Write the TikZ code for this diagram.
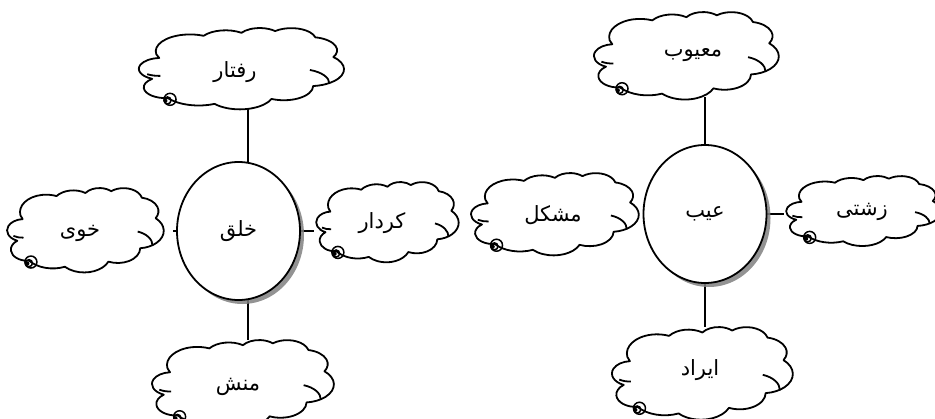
\documentclass[tikz,border=0pt]{standalone}
\usepackage{fontspec}
\newfontfamily\arabicfont[Script=Arabic]{DejaVu Sans}
\TeXXeTstate=1
\usetikzlibrary{shapes.geometric,shadows,backgrounds,calc}
\tikzset{
  conn/.style={line width=1.6pt},
  cloudline/.style={line width=1.8pt, line join=round},
  fatext/.style={font=\arabicfont\fontsize{21}{25}\selectfont, inner sep=0pt},
  hub/.style={ellipse, draw, line width=1.8pt, fill=white, inner sep=0pt,
    minimum width=123pt, minimum height=138pt, fatext,
    drop shadow={shadow xshift=4pt, shadow yshift=-4pt, fill=black!50, opacity=0.85}},
  cloudbox/.style={rectangle, draw=none, inner sep=0pt},
  bubble/.style={line width=1.5pt},
}
\newcommand\fa[1]{\beginR #1\endR}
% name, left, top, width, height, text, text x, text y
\newcommand\wcloud[8]{%
  \pgfmathsetmacro\cwx{#4/43.2}%
  \pgfmathsetmacro\cwy{#5/43.2}%
  \begin{scope}[shift={(#2,#3)}, x=\cwx pt, y=-\cwy pt]
    \draw[cloudline, fill=white] (3.9,14.37)
      arc[start angle=-190.4875, delta angle=123.7805, x radius=6.753, y radius=9.19]
      arc[start angle=-144.1024, delta angle=89.9452, x radius=5.333, y radius=7.267]
      arc[start angle=-145.8079, delta angle=99.7230, x radius=4.365, y radius=5.945]
      arc[start angle=-130.9861, delta angle=117.2417, x radius=4.857, y radius=6.595]
      arc[start angle=-78.7089, delta angle=109.0269, x radius=5.333, y radius=7.273]
      arc[start angle=-46.2673, delta angle=130.2690, x radius=6.775, y radius=9.22]
      arc[start angle=0.6250, delta angle=114.0333, x radius=5.785, y radius=7.867]
      arc[start angle=22.4516, delta angle=115.1726, x radius=6.752, y radius=9.215]
      arc[start angle=66.2426, delta angle=75.7110, x radius=7.72, y radius=10.543]
      arc[start angle=-274.9421, delta angle=146.7356, x radius=4.36, y radius=5.918]
      arc[start angle=-246.8285, delta angle=152.5189, x radius=4.345, y radius=5.945]
      -- cycle;
    \draw[cloudline] (4.693,26.177)
      arc[start angle=86.742, delta angle=36, x radius=4.345, y radius=5.945];
    \draw[cloudline] (34.129,22.954)
      arc[start angle=-70.2924, delta angle=70.9174, x radius=5.785, y radius=7.867];
    \draw[bubble] (6.6,39) circle[radius=6pt];
    \draw[bubble] (6.1,39.6) circle[radius=3.5pt];
    \fill (5.7,39.8) circle[radius=2pt];
  \end{scope}
  \node[cloudbox, minimum width=#4pt, minimum height=#5pt] (#1)
    at ({#2+#4/2},{#3+#5/2}) {};
  \node[fatext] (#1-text) at (#7,#8) {\fa{#6}};
}
\begin{document}
\begin{tikzpicture}[x=1pt, y=-1pt]
  \useasboundingbox (0,0) rectangle (935,418);
  % left group clouds
  \wcloud{raftar}{136.5}{28}{219.5}{79}{رفتار}{235}{72}
  \wcloud{khoy}{5.3}{188}{167.6}{82}{خوی}{80}{233}
  \wcloud{manesh}{149.9}{340}{194.6}{85}{منش}{238}{387}
  \wcloud{kerdar}{314.6}{182}{152.4}{78}{کردار}{382}{223}
  % right group clouds
  \wcloud{maayub}{591.8}{12}{197.8}{85}{معیوب}{693}{55}
  \wcloud{iraad}{609.9}{327}{193.5}{90}{ایراد}{700}{370}
  \wcloud{moshkel}{469.1}{173}{179.5}{80}{مشکل}{553}{215}
  \wcloud{zeshti}{784.4}{176}{165.4}{68}{زشتی}{862}{212}
  % hubs
  \node[hub] (khulq) at (238.5,231) {\fa{خلق}};
  \node[hub] (ayb) at (705,214) {\fa{عیب}};
  % connectors
  \begin{scope}[on background layer]
    \draw[conn] (khulq.82) -- (khulq.82 |- raftar.south);
    \draw[conn] (khulq.-82) -- (khulq.-82 |- manesh.north);
    \draw[conn] (khulq.west) -- (khulq.west -| khoy.east);
    \draw[conn] (khulq.east) -- (khulq.east -| kerdar.west);
    \draw[conn] (ayb.north) -- (ayb.north |- maayub.south);
    \draw[conn] (ayb.south) -- (ayb.south |- iraad.north);
    \draw[conn] (ayb.west) -- (ayb.west -| moshkel.east);
    \draw[conn] (ayb.east) -- (ayb.east -| zeshti.west);
  \end{scope}
\end{tikzpicture}
\end{document}
